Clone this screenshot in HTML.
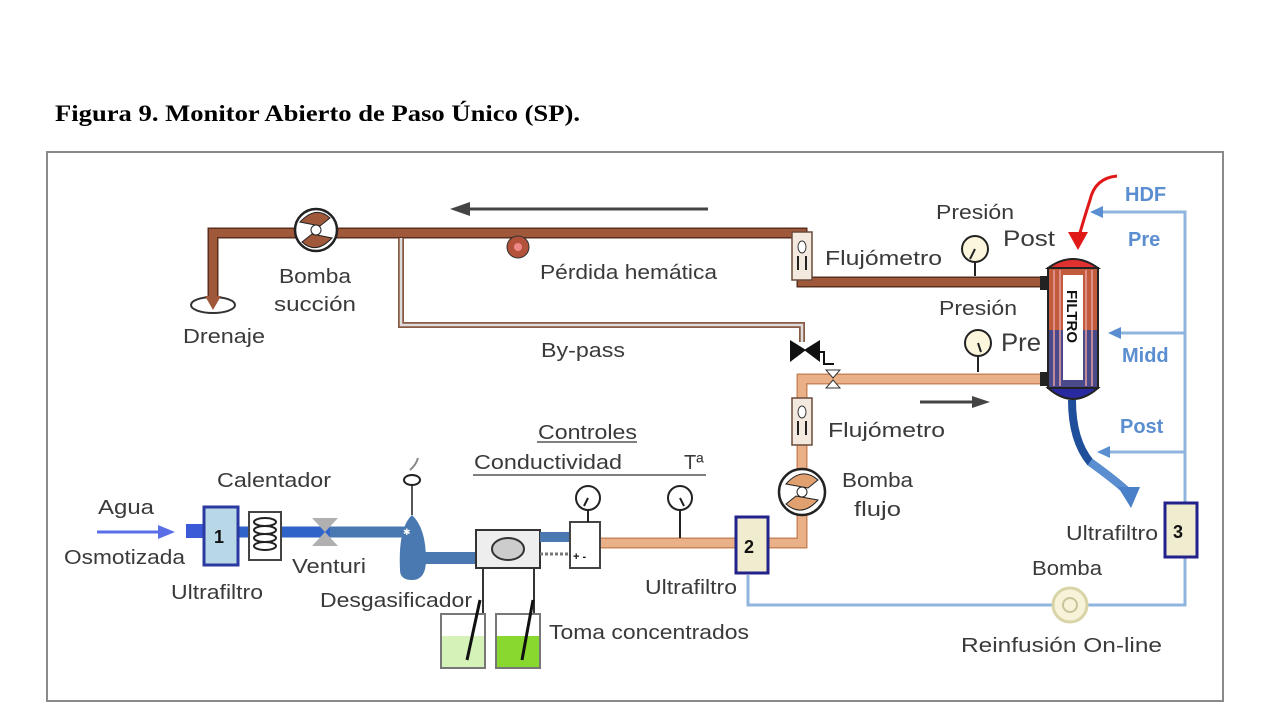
<!DOCTYPE html>
<html><head><meta charset="utf-8"><style>
html,body{margin:0;padding:0;background:#fff;}
svg{display:block;}
text{font-family:"Liberation Sans",Arial,sans-serif;}
</style></head><body>
<svg width="1280" height="720" viewBox="0 0 1280 720" xmlns="http://www.w3.org/2000/svg">
<rect width="1280" height="720" fill="#fff"/>
<text x="55" y="121" textLength="525" lengthAdjust="spacingAndGlyphs" style="font-family:'Liberation Serif',serif;font-weight:bold;font-size:23px" fill="#000">Figura 9. Monitor Abierto de Paso Único (SP).</text>
<rect x="47" y="152" width="1176" height="549" fill="#fff" stroke="#8a8a8a" stroke-width="2"/>

<line x1="465" y1="209" x2="708" y2="209" stroke="#444" stroke-width="3"/>
<polygon points="450,209 470,202 470,216" fill="#444"/>

<g fill="none" stroke-linejoin="miter">
<path d="M213,298 L213,233 L802,233 L802,282 L1048,282" stroke="#5a2f1e" stroke-width="11"/>
<path d="M213,298 L213,233 L802,233 L802,282 L1048,282" stroke="#a0583a" stroke-width="8"/>
</g>
<ellipse cx="213" cy="305" rx="22" ry="8" fill="#fff" stroke="#333" stroke-width="2"/>
<polygon points="205,296 221,296 213,310" fill="#a0583a"/>
<circle cx="316" cy="230" r="21" fill="#fff" stroke="#222" stroke-width="2.5"/>
<path d="M300,222 Q316,205 330,218 L320,226 Z M332,238 Q316,255 302,242 L312,234 Z" fill="#a0583a" stroke="#222"/>
<circle cx="316" cy="230" r="5" fill="#fff" stroke="#222"/>
<circle cx="518" cy="247" r="11" fill="#b3523a" stroke="#333"/>
<circle cx="518" cy="247" r="4" fill="#e88"/>

<path d="M401,238 L401,325 L802,325 L802,342" fill="none" stroke="#8a5a45" stroke-width="6"/>
<path d="M401,238 L401,325 L802,325 L802,342" fill="none" stroke="#ddd" stroke-width="2.5"/>
<polygon points="790,340 806,350 790,362" fill="#111"/>
<polygon points="820,340 804,350 820,362" fill="#111"/>
<path d="M814,352 h10 v12 h10" fill="none" stroke="#111" stroke-width="2"/>

<g fill="none">
<path d="M1048,379 L802,379 L802,543 L600,543" stroke="#c8865a" stroke-width="11"/>
<path d="M1048,379 L802,379 L802,543 L600,543" stroke="#eab088" stroke-width="8"/>
</g>
<polygon points="826,370 840,370 833,378" fill="#fff" stroke="#333"/>
<polygon points="826,388 840,388 833,380" fill="#fff" stroke="#333"/>
<line x1="920" y1="402" x2="975" y2="402" stroke="#444" stroke-width="3"/>
<polygon points="990,402 972,396 972,408" fill="#444"/>

<rect x="792" y="232" width="20" height="48" fill="#f4e9df" stroke="#6a4a3a" stroke-width="1.5"/>
<ellipse cx="802" cy="247" rx="4" ry="6" fill="#fff" stroke="#333"/>
<path d="M798,256 v14 M806,256 v14" stroke="#222" stroke-width="2"/>
<rect x="792" y="398" width="20" height="47" fill="#f4e9df" stroke="#6a4a3a" stroke-width="1.5"/>
<ellipse cx="802" cy="412" rx="4" ry="6" fill="#fff" stroke="#333"/>
<path d="M798,421 v14 M806,421 v14" stroke="#222" stroke-width="2"/>

<circle cx="802" cy="492" r="23" fill="#fff" stroke="#222" stroke-width="2.5"/>
<path d="M786,484 Q802,466 818,480 L808,488 Z M818,500 Q802,518 786,504 L796,496 Z" fill="#e0a070" stroke="#222"/>
<circle cx="802" cy="492" r="5" fill="#fff" stroke="#222"/>

<g stroke="#222" stroke-width="2">
<line x1="975" y1="262" x2="975" y2="276"/>
<circle cx="975" cy="249" r="13" fill="#fbf6dc"/>
<line x1="975" y1="249" x2="970" y2="259"/>
<line x1="978" y1="356" x2="978" y2="372"/>
<circle cx="978" cy="343" r="13" fill="#fbf6dc"/>
<line x1="978" y1="343" x2="981" y2="352"/>
</g>

<rect x="1048" y="268" width="50" height="120" fill="#c25a3c" stroke="#222" stroke-width="2"/>
<rect x="1049" y="330" width="48" height="57" fill="#4a4a8a"/>
<path d="M1054,270v116M1060,270v116M1086,270v116M1092,270v116" stroke="#e8a0a0" stroke-width="1.5"/>
<path d="M1048,268 Q1073,250 1098,268 Z" fill="#e03030" stroke="#222" stroke-width="2"/>
<path d="M1048,388 Q1073,410 1098,388 Z" fill="#2a2aa0" stroke="#222" stroke-width="2"/>
<rect x="1063" y="275" width="20" height="105" fill="#fff"/>
<text transform="translate(1067,290) rotate(90)" font-size="15" font-weight="bold" fill="#111">FILTRO</text>
<rect x="1040" y="276" width="8" height="14" fill="#222"/>
<rect x="1040" y="372" width="8" height="14" fill="#222"/>
<path d="M1117,176 Q1095,178 1090,200 Q1082,225 1078,240" fill="none" stroke="#e01818" stroke-width="3"/>
<polygon points="1068,232 1088,232 1078,250" fill="#e01818"/>
<path d="M1072,400 Q1072,440 1090,462 Q1115,480 1128,492" fill="none" stroke="#1f4f9a" stroke-width="8"/>
<path d="M1090,462 Q1115,480 1128,492" fill="none" stroke="#5a8ed0" stroke-width="8"/>
<polygon points="1118,487 1140,487 1131,508" fill="#4a80c8"/>

<g stroke="#8fb4dd" stroke-width="3" fill="none">
<path d="M1103,212 L1185,212 L1185,605 L748,605 L748,575"/>
<line x1="1118" y1="333" x2="1185" y2="333"/>
<line x1="1108" y1="452" x2="1185" y2="452"/>
</g>
<polygon points="1090,212 1103,206 1103,218" fill="#5a8ed0"/>
<polygon points="1108,333 1121,327 1121,339" fill="#5a8ed0"/>
<polygon points="1097,452 1110,446 1110,458" fill="#5a8ed0"/>
<circle cx="1070" cy="605" r="17" fill="#f6f3d8" stroke="#d8d4a8" stroke-width="3"/>
<circle cx="1070" cy="605" r="7" fill="none" stroke="#c8c49a" stroke-width="2"/>

<rect x="1165" y="503" width="32" height="54" fill="#f0ecd0" stroke="#22228a" stroke-width="3"/>
<text x="1173" y="538" font-size="18" font-weight="bold" fill="#111">3</text>
<rect x="736" y="517" width="32" height="56" fill="#f0ecd0" stroke="#22228a" stroke-width="3"/>
<text x="744" y="553" font-size="18" font-weight="bold" fill="#111">2</text>

<line x1="97" y1="532" x2="162" y2="532" stroke="#5a6ee8" stroke-width="3"/>
<polygon points="175,532 158,525 158,539" fill="#5a6ee8"/>
<rect x="186" y="524" width="18" height="14" fill="#3a5ad8"/>
<path d="M238,532 L412,532" stroke="#2f63c8" stroke-width="11"/>
<path d="M330,532 L412,532" stroke="#4a78b0" stroke-width="11"/>
<rect x="204" y="507" width="34" height="58" fill="#b8d8e8" stroke="#2a3aa0" stroke-width="3"/>
<text x="214" y="543" font-size="18" font-weight="bold" fill="#111">1</text>
<rect x="249" y="512" width="32" height="48" fill="#fff" stroke="#444" stroke-width="2"/>
<g fill="none" stroke="#222" stroke-width="2">
<ellipse cx="265" cy="522" rx="11" ry="4"/><ellipse cx="265" cy="530" rx="11" ry="4"/><ellipse cx="265" cy="538" rx="11" ry="4"/><ellipse cx="265" cy="546" rx="11" ry="4"/>
</g>
<polygon points="312,518 338,518 325,532 338,546 312,546 325,532" fill="#b0b0b0"/>
<path d="M412,558 L478,558" stroke="#4a78b0" stroke-width="12"/>
<path d="M400,570 Q398,528 412,515 Q426,528 426,560 Q426,580 412,580 Q400,580 400,570 Z" fill="#4a78b0"/>
<line x1="412" y1="515" x2="412" y2="485" stroke="#555" stroke-width="2"/>
<ellipse cx="412" cy="480" rx="8" ry="5" fill="#fff" stroke="#222" stroke-width="2"/>
<path d="M410,470 Q416,465 418,458" stroke="#888" fill="none" stroke-width="2"/>
<text x="403" y="535" font-size="9" fill="#fff">✱</text>
<rect x="476" y="530" width="64" height="38" fill="#eee" stroke="#333" stroke-width="2"/>
<ellipse cx="508" cy="549" rx="16" ry="11" fill="#ccc" stroke="#333" stroke-width="2"/>
<path d="M540,537 L572,537" stroke="#4a78b0" stroke-width="10"/>
<line x1="540" y1="554" x2="570" y2="554" stroke="#777" stroke-width="3" stroke-dasharray="3,2"/>
<line x1="483" y1="568" x2="483" y2="615" stroke="#333" stroke-width="2"/>
<line x1="534" y1="568" x2="534" y2="615" stroke="#333" stroke-width="2"/>
<rect x="570" y="522" width="30" height="46" fill="#fff" stroke="#444" stroke-width="2"/>
<text x="573" y="560" font-size="11" font-weight="bold" fill="#111">+ -</text>
<g stroke="#222" stroke-width="2">
<line x1="588" y1="510" x2="588" y2="522"/>
<circle cx="588" cy="498" r="12" fill="#fff"/>
<line x1="588" y1="498" x2="584" y2="506"/>
<line x1="680" y1="510" x2="680" y2="538"/>
<circle cx="680" cy="498" r="12" fill="#fff"/>
<line x1="680" y1="498" x2="684" y2="506"/>
</g>
<line x1="473" y1="475" x2="706" y2="475" stroke="#555" stroke-width="1.5"/>
<line x1="537" y1="442" x2="637" y2="442" stroke="#555" stroke-width="1.5"/>
<rect x="441" y="614" width="44" height="54" fill="#fff" stroke="#777" stroke-width="2"/>
<rect x="442" y="636" width="42" height="31" fill="#d5f2b8"/>
<rect x="496" y="614" width="44" height="54" fill="#fff" stroke="#777" stroke-width="2"/>
<rect x="497" y="636" width="42" height="31" fill="#88d830"/>
<line x1="467" y1="660" x2="480" y2="600" stroke="#111" stroke-width="3"/>
<line x1="522" y1="660" x2="533" y2="600" stroke="#111" stroke-width="3"/>

<g font-size="20" fill="#3a3a3a" lengthAdjust="spacingAndGlyphs">
<text x="279" y="283" textLength="72" lengthAdjust="spacingAndGlyphs">Bomba</text>
<text x="274" y="311" textLength="82" lengthAdjust="spacingAndGlyphs">succión</text>
<text x="183" y="343" textLength="82" lengthAdjust="spacingAndGlyphs">Drenaje</text>
<text x="540" y="279" textLength="177" lengthAdjust="spacingAndGlyphs">Pérdida hemática</text>
<text x="541" y="357" textLength="84" lengthAdjust="spacingAndGlyphs">By-pass</text>
<text x="825" y="265" textLength="117" lengthAdjust="spacingAndGlyphs">Flujómetro</text>
<text x="936" y="219" textLength="78" lengthAdjust="spacingAndGlyphs">Presión</text>
<text x="1003" y="246" font-size="22" textLength="52" lengthAdjust="spacingAndGlyphs">Post</text>
<text x="939" y="315" textLength="78" lengthAdjust="spacingAndGlyphs">Presión</text>
<text x="1001" y="351" font-size="25" textLength="40" lengthAdjust="spacingAndGlyphs">Pre</text>
<text x="828" y="437" textLength="117" lengthAdjust="spacingAndGlyphs">Flujómetro</text>
<text x="842" y="487" textLength="71" lengthAdjust="spacingAndGlyphs">Bomba</text>
<text x="854" y="516" textLength="47" lengthAdjust="spacingAndGlyphs">flujo</text>
<text x="538" y="439" textLength="99" lengthAdjust="spacingAndGlyphs">Controles</text>
<text x="474" y="469" textLength="148" lengthAdjust="spacingAndGlyphs">Conductividad</text>
<text x="684" y="469">Tª</text>
<text x="217" y="487" textLength="114" lengthAdjust="spacingAndGlyphs">Calentador</text>
<text x="98" y="514" textLength="56" lengthAdjust="spacingAndGlyphs">Agua</text>
<text x="64" y="564" textLength="121" lengthAdjust="spacingAndGlyphs">Osmotizada</text>
<text x="171" y="599" textLength="92" lengthAdjust="spacingAndGlyphs">Ultrafiltro</text>
<text x="292" y="573" textLength="74" lengthAdjust="spacingAndGlyphs">Venturi</text>
<text x="320" y="607" textLength="152" lengthAdjust="spacingAndGlyphs">Desgasificador</text>
<text x="549" y="639" textLength="200" lengthAdjust="spacingAndGlyphs">Toma concentrados</text>
<text x="645" y="594" textLength="92" lengthAdjust="spacingAndGlyphs">Ultrafiltro</text>
<text x="1066" y="540" textLength="92" lengthAdjust="spacingAndGlyphs">Ultrafiltro</text>
<text x="1032" y="575" textLength="70" lengthAdjust="spacingAndGlyphs">Bomba</text>
<text x="961" y="652" textLength="201" lengthAdjust="spacingAndGlyphs">Reinfusión  On-line</text>
</g>
<g font-size="20" fill="#5a8ed0" font-weight="bold">
<text x="1125" y="201">HDF</text>
<text x="1128" y="246">Pre</text>
<text x="1122" y="362">Midd</text>
<text x="1120" y="433">Post</text>
</g>
</svg>
</body></html>
